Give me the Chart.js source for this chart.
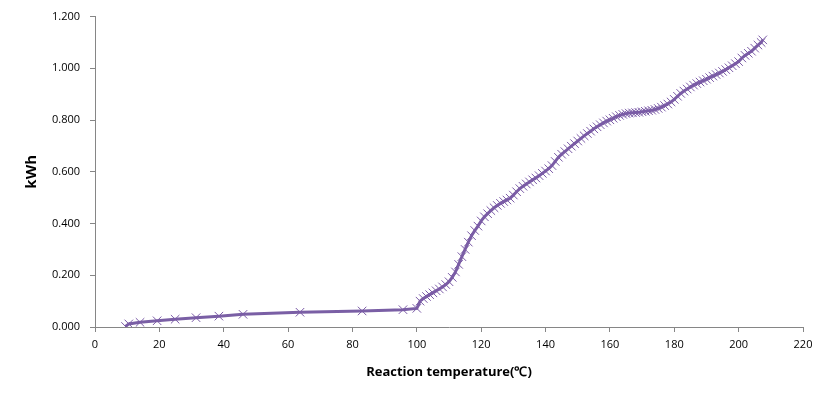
<!DOCTYPE html>
<html>
<head>
    <meta charset="utf-8">
    <title>kWh vs Reaction temperature</title>
    <script src="https://cdn.jsdelivr.net/npm/chart.js"></script>
    <style>
        body { margin: 0; background: #fff; }
    </style>
</head>
<body>
<canvas id="myChart" width="832" height="402"></canvas>
<script>
    // 반응 온도 (℃)
    var temps = [9.5, 10.5, 14, 19.3, 24.9, 31.4, 38.5, 46, 63.7, 83, 95.7, 100,
        101, 102, 103, 104, 105, 106, 107, 108, 109, 110,
        111, 112, 113, 114, 115, 116, 117, 118, 119, 120,
        121, 122, 123, 124, 125, 126, 127, 128, 129, 130,
        131, 132, 133, 134, 135, 136, 137, 138, 139, 140,
        141, 142, 143, 144, 145, 146, 147, 148, 149, 150,
        151, 152, 153, 154, 155, 156, 157, 158, 159, 160,
        161, 162, 163, 164, 165, 166, 167, 168, 169, 170,
        171, 172, 173, 174, 175, 176, 177, 178, 179, 180,
        181, 182, 183, 184, 185, 186, 187, 188, 189, 190,
        191, 192, 193, 194, 195, 196, 197, 198, 199, 200,
        201, 202, 203, 204, 205, 206, 207, 207.5];
    // 누적 전력량 (kWh)
    var kwh = [0.002, 0.012, 0.018, 0.024, 0.030, 0.036, 0.042, 0.049, 0.057, 0.062, 0.067, 0.072,
        0.100, 0.110, 0.118, 0.125, 0.132, 0.140, 0.147, 0.155, 0.164, 0.175,
        0.192, 0.213, 0.242, 0.272, 0.300, 0.328, 0.353, 0.373, 0.390, 0.410,
        0.426, 0.438, 0.450, 0.461, 0.470, 0.478, 0.485, 0.491, 0.498, 0.510,
        0.523, 0.535, 0.544, 0.553, 0.561, 0.569, 0.576, 0.585, 0.594, 0.603,
        0.612, 0.624, 0.640, 0.656, 0.668, 0.678, 0.689, 0.699, 0.709, 0.719,
        0.729, 0.739, 0.748, 0.757, 0.766, 0.774, 0.782, 0.789, 0.796, 0.801,
        0.807, 0.813, 0.818, 0.822, 0.825, 0.827, 0.828, 0.829, 0.830, 0.832,
        0.834, 0.836, 0.838, 0.841, 0.845, 0.850, 0.856, 0.862, 0.870, 0.880,
        0.892, 0.903, 0.912, 0.920, 0.928, 0.935, 0.941, 0.947, 0.952, 0.958,
        0.964, 0.970, 0.976, 0.982, 0.988, 0.995, 1.002, 1.010, 1.018, 1.026,
        1.040, 1.050, 1.058, 1.066, 1.078, 1.090, 1.100, 1.110];

    var xTitle = 'Reaction temperature(℃)';
    var yTitle = 'kWh';

    var points = temps.map(function (t, i) { return {x: t, y: kwh[i]}; });

    var axisColor = '#868686';
    var tickFont = {family: 'Open Sans', size: 11};

    var ctx = document.getElementById('myChart').getContext('2d');
    var chart = new Chart(ctx, {
        type: 'scatter',
        data: {
            datasets: [{
                data: points,
                showLine: true,
                borderColor: '#7a5fa5',
                borderWidth: 3,
                pointStyle: 'crossRot',
                pointRadius: 6,
                pointBorderWidth: 1,
                pointBorderColor: '#7a5aa6',
                pointBackgroundColor: '#7a5aa6',
                tension: 0
            }]
        },
        options: {
            responsive: false,
            animation: false,
            layout: { padding: {top: 15, right: 29, bottom: 0, left: 0} },
            plugins: {
                legend: { display: false },
                tooltip: { enabled: false }
            },
            scales: {
                x: {
                    type: 'linear',
                    min: 0,
                    max: 220,
                    afterFit: function (s) { s.height = 75; },
                    ticks: {
                        stepSize: 20,
                        color: '#000',
                        font: tickFont,
                        padding: 6,
                        maxRotation: 0
                    },
                    grid: {
                        drawOnChartArea: false,
                        tickLength: 5,
                        color: axisColor
                    },
                    border: { color: axisColor, width: 1 },
                    title: {
                        display: true,
                        text: xTitle,
                        color: '#000',
                        font: {family: 'Open Sans', size: 13, weight: 'bold'},
                        padding: {top: 0, bottom: 22}
                    }
                },
                y: {
                    min: 0,
                    max: 1.2,
                    afterFit: function (s) { s.width = 95; },
                    ticks: {
                        stepSize: 0.2,
                        color: '#000',
                        font: tickFont,
                        padding: 10,
                        callback: function (v) { return v.toFixed(3); }
                    },
                    grid: {
                        drawOnChartArea: false,
                        tickLength: 5,
                        color: axisColor
                    },
                    border: { color: axisColor, width: 1 },
                    title: {
                        display: true,
                        text: yTitle,
                        color: '#000',
                        font: {family: 'Open Sans', size: 15, weight: 'bold'},
                        padding: {top: 23, bottom: 0}
                    }
                }
            }
        }
    });
</script>
</body>
</html>
